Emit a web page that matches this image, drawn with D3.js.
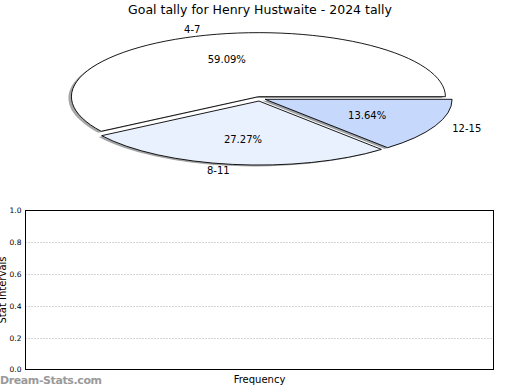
<!DOCTYPE html>
<html><head><meta charset="utf-8">
<script src="https://cdn.jsdelivr.net/npm/d3@7/dist/d3.min.js"></script>
<style>body{margin:0;background:#fff}svg{display:block;font-family:"DejaVu Sans",sans-serif}</style>
</head><body><svg id="c" width="520" height="390"></svg>
<script>
const title = "Goal tally for Henry Hustwaite - 2024 tally";
const categories = ["4-7", "8-11", "12-15"];
const values = [13, 6, 3];
const percentLabels = ["59.09%", "27.27%", "13.64%"];
const sliceColors = ["#ffffff", "#eaf1fe", "#c6d9fd"];
const explode = [0.03, 0.04, 0.03];
const yTicks = [0.0, 0.2, 0.4, 0.6, 0.8, 1.0];
const xLabel = "Frequency", yLabel = "Stat Intervals", watermark = "Dream-Stats.com";

const svg = d3.select("#c");
svg.append("text").attr("x", 260).attr("y", 14).attr("text-anchor", "middle")
  .attr("font-size", 12.5).text(title);

// Pie (matplotlib-like, CCW from 3 o'clock, elliptical)
const cx = 260, cy = 98.5, rx = 187, ry = 64;
const pie = d3.pie().sort(null).startAngle(0).endAngle(2 * Math.PI)(values);
const arc = d3.arc().innerRadius(0).outerRadius(1);
const slices = pie.map((p, i) => {
  const t0 = p.startAngle, t1 = p.endAngle, tm = (t0 + t1) / 2;
  const ox = cx + explode[i] * rx * Math.cos(tm);
  const oy = cy - explode[i] * ry * Math.sin(tm);
  return {i, t0, t1, tm, ox, oy,
    path: arc({startAngle: Math.PI / 2 - t1, endAngle: Math.PI / 2 - t0})};
});
const shadowColor = c => { const k = d3.rgb(c); return d3.rgb(k.r * 0.3, k.g * 0.3, k.b * 0.3); };
const g = svg.append("g");
g.selectAll("path.sh").data(slices).join("path").attr("class", "sh")
  .attr("d", d => d.path)
  .attr("transform", d => `translate(${d.ox - 3},${d.oy + 1.4}) scale(${rx},${ry})`)
  .attr("fill", d => shadowColor(sliceColors[d.i])).attr("fill-opacity", 0.5);
g.selectAll("path.w").data(slices).join("path").attr("class", "w")
  .attr("d", d => d.path)
  .attr("transform", d => `translate(${d.ox},${d.oy}) scale(${rx},${ry})`)
  .attr("fill", d => sliceColors[d.i]).attr("stroke", "#000").attr("stroke-width", 0.9)
  .attr("vector-effect", "non-scaling-stroke").attr("stroke-linejoin", "round");
slices.forEach(d => {
  const c = Math.cos(d.tm), s = Math.sin(d.tm);
  g.append("text").attr("x", d.ox + 1.1 * rx * c).attr("y", d.oy - 1.1 * ry * s)
    .attr("dy", "0.35em").attr("font-size", 10)
    .attr("text-anchor", c < 0 ? "end" : "start").text(categories[d.i]);
  g.append("text").attr("x", d.ox + 0.6 * rx * c).attr("y", d.oy - 0.6 * ry * s)
    .attr("dy", "0.35em").attr("font-size", 10)
    .attr("text-anchor", "middle").text(percentLabels[d.i]);
});

// Bottom axes
const L = 25.5, R = 493.5, T = 210.5, B = 369.5;
const y = d3.scaleLinear().domain([0, 1]).range([B, T]);
const ax = svg.append("g");
ax.selectAll("line.grid").data(yTicks.filter(v => v > 0 && v < 1)).join("line")
  .attr("x1", L).attr("x2", R).attr("y1", d => Math.round(y(d)) + 0.5).attr("y2", d => Math.round(y(d)) + 0.5)
  .attr("stroke", "#aaa").attr("stroke-width", 1).attr("stroke-dasharray", "1,2");
ax.append("g").attr("transform", `translate(${L},0)`)
  .call(d3.axisLeft(y).tickValues(yTicks).tickFormat(d3.format(".1f")).tickSize(0).tickPadding(4))
  .call(s => s.select(".domain").remove())
  .call(s => s.selectAll("text").attr("font-size", 7.5).attr("font-family", "DejaVu Sans").attr("fill", "#000"));
ax.append("rect").attr("x", L).attr("y", T).attr("width", R - L).attr("height", B - T)
  .attr("fill", "none").attr("stroke", "#000").attr("stroke-width", 1);
svg.append("text").attr("x", (L + R) / 2).attr("y", 383).attr("text-anchor", "middle")
  .attr("font-size", 10).text(xLabel);
svg.append("text").attr("transform", `translate(6,${(T + B) / 2}) rotate(-90)`)
  .attr("text-anchor", "middle").attr("font-size", 10).text(yLabel);
svg.append("text").attr("x", 0).attr("y", 384).attr("font-size", 11)
  .attr("fill", "#9a9a9a").attr("font-weight", 600).attr("textLength", 102).text(watermark);
</script></body></html>
